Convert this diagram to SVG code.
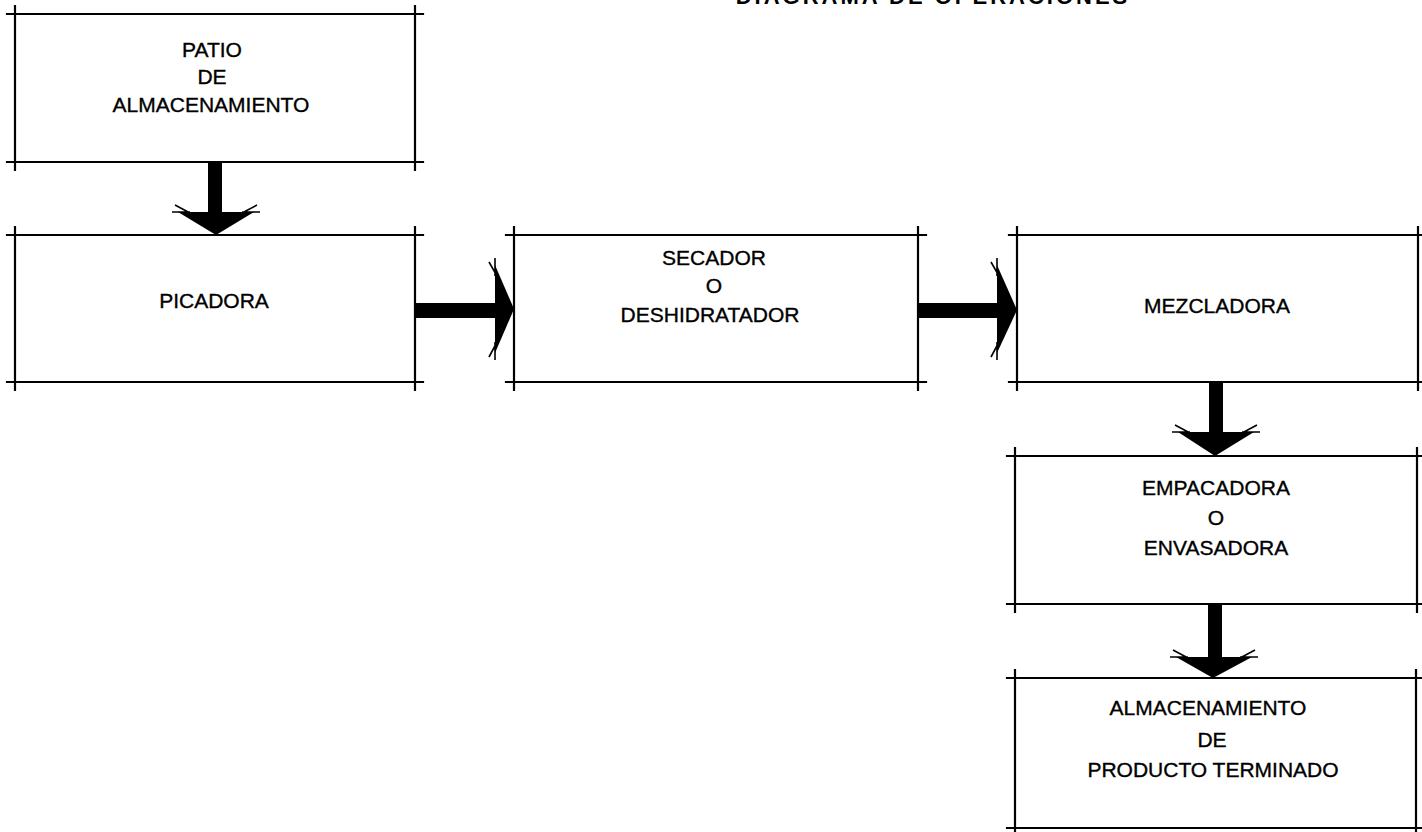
<svg xmlns="http://www.w3.org/2000/svg" width="1422" height="832" viewBox="0 0 1422 832">
<style>
.box{fill:none;stroke:#000;stroke-width:2.2;stroke-linecap:square}
.lbl{font-family:"Liberation Sans",Arial,sans-serif;font-size:21px;fill:#000;stroke:#000;stroke-width:0.35px;text-anchor:middle}
.ttl{font-family:"Liberation Sans",Arial,sans-serif;font-size:22px;font-weight:bold;fill:#000;text-anchor:middle;letter-spacing:3px}
.shaft{fill:#000}
.head{fill:#000}
.tick{fill:none;stroke:#000;stroke-width:1.6}
</style>
<rect width="1422" height="832" fill="#fff"/>
<text class="ttl" x="933" y="4">DIAGRAMA  DE  OPERACIONES</text>

<g id="patio">
<path class="box" d="M7 14H423M7 162H423M15 6V170M415 6V170"/>
<text class="lbl" x="212" y="57">PATIO</text>
<text class="lbl" x="212" y="84">DE</text>
<text class="lbl" x="211" y="112">ALMACENAMIENTO</text>
</g>

<g id="picadora">
<path class="box" d="M7 235H423M7 382H423M15 227V390M415 227V390"/>
<text class="lbl" x="214" y="308">PICADORA</text>
</g>

<g id="secador">
<path class="box" d="M506 235H926M506 382H926M514 227V390M918 227V390"/>
<text class="lbl" x="714" y="265">SECADOR</text>
<text class="lbl" x="714" y="293">O</text>
<text class="lbl" x="710" y="322">DESHIDRATADOR</text>
</g>

<g id="mezcladora">
<path class="box" d="M1009 235H1422M1009 382H1422M1017 227V390M1418 227V390"/>
<text class="lbl" x="1217" y="313">MEZCLADORA</text>
</g>

<g id="empacadora">
<path class="box" d="M1007 456H1422M1007 604H1422M1015 448V612M1417 448V612"/>
<text class="lbl" x="1216" y="495">EMPACADORA</text>
<text class="lbl" x="1216" y="525">O</text>
<text class="lbl" x="1216" y="555">ENVASADORA</text>
</g>

<g id="almacenamiento">
<path class="box" d="M1007 678H1422M1007 828H1422M1015 670V832M1416 670V832"/>
<text class="lbl" x="1208" y="715">ALMACENAMIENTO</text>
<text class="lbl" x="1212" y="747">DE</text>
<text class="lbl" x="1213" y="777">PRODUCTO TERMINADO</text>
</g>

<g id="connectors">
<rect class="shaft" x="208" y="162" width="14" height="52"/>
<polygon class="head" points="178,212 254,212 216,235"/>
<path class="tick" d="M172 212H190M175 205L190 213M242 212H260M257 205L242 213"/>
<rect class="shaft" x="415" y="303" width="82" height="15"/>
<polygon class="head" points="495,265 514,309 495,353"/>
<path class="tick" d="M495 258V276M489 262L497 276M495 342V360M489 357L497 342"/>
<rect class="shaft" x="918" y="303" width="81" height="15"/>
<polygon class="head" points="997,265 1017,310 997,353"/>
<path class="tick" d="M997 258V276M991 262L999 276M997 342V360M991 357L999 342"/>
<rect class="shaft" x="1209" y="382" width="14" height="52"/>
<polygon class="head" points="1178,432 1254,432 1215,456"/>
<path class="tick" d="M1172 432H1190M1175 425L1190 433M1242 432H1260M1257 425L1242 433"/>
<rect class="shaft" x="1208" y="604" width="14" height="56"/>
<polygon class="head" points="1176,657 1252,657 1213,678"/>
<path class="tick" d="M1170 657H1188M1173 650L1188 658M1240 657H1258M1255 650L1240 658"/>
</g>
</svg>
